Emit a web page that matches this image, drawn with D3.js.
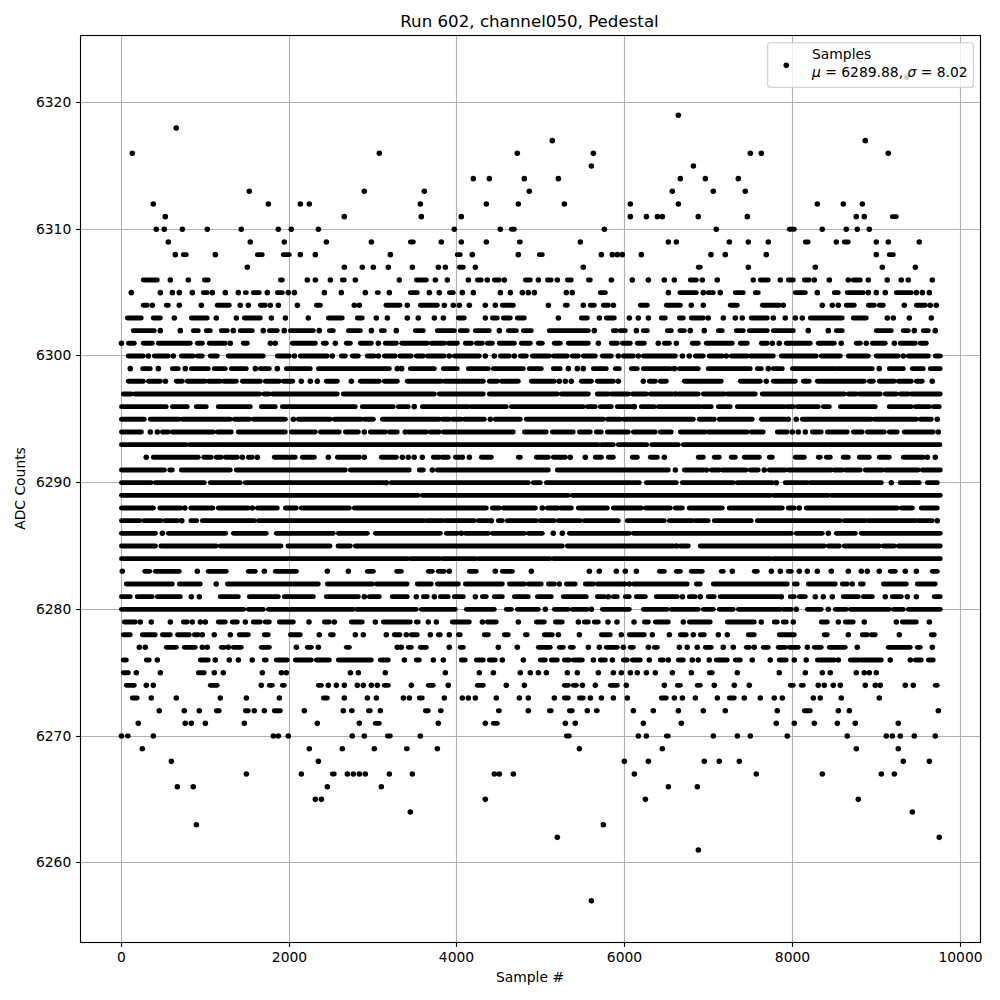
<!DOCTYPE html>
<html><head><meta charset="utf-8">
<script src="https://cdn.jsdelivr.net/npm/d3@7"></script>
<style>html,body{margin:0;padding:0;background:#fff}svg{display:block}text{font-family:"DejaVu Sans",sans-serif;fill:#000}</style>
</head><body><div id="chart"></div>
<script>
// Sample numbers, one list per ADC level.
// A number is one isolated sample; [a,b] is an unbroken row of overlapping samples.
const L6322=[9351];
const L6319=[6632];
const L6318=[653];
const L6317=[5131,8858];
const L6316=[129,3071,4714,5620,7489,7620,9132];
const L6315=[5596,6811];
const L6314=[4190,4381,4798,5203,6656,6953,7346];
const L6313=[1522,2892,3607,4857,6560,7048,7429];
const L6312=[379,1749,2130,2237,3559,4345,4726,5274,6060,6632,8287,8596,8823];
const L6311=[522,2654,3571,4047,6060,6251,6382,6441,6869,7453,8751,8846,[9180,9228]];
const L6310=[415,510,725,1022,1427,1868,2023,2345,3964,4512,[4643,4679],5751,7084,[7953,8013],8346,8632,8763,8906];
const L6309=[558,1534,1939,2440,2976,[3440,3476],3809,4047,4345,[4738,4750],5465,6513,6608,7239,7465,7703,[8144,8179],8513,[8608,8656],8989,9132,9501];
const L6308=[641,[736,772],1118,[1618,1677],[1927,1999],2130,2309,3202,[3999,4035],4178,4726,[4976,5012],5715,5846,5905,5965,6191,7020,7191,7679,8989,[9144,9192]];
const L6307=[1499,2654,2868,2999,3178,3464,3774,3857,[4024,4071],4214,5500,[6869,6893],7465,8263,9061,9454];
const L6306=[[260,427],582,796,[987,1034],[1892,1916],2213,2309,2488,[2630,2654],2785,3309,[3512,3631],3738,3881,4131,[4238,4286],4357,[4440,4500],4560,[4810,4870],4965,[5072,5119],5191,[5310,5358],[5560,5584],5834,6084,6275,6465,6584,[6774,6846],6917,7096,7524,[7608,7703],7846,[7941,8001],[8132,8191],8251,8430,8656,[8715,8799],8894,9120,9287,9370,9656];
const L6305=[117,463,606,689,844,[975,1022],1082,1237,1392,[1475,1487],[1570,1642],1737,[1856,1916],1987,2059,2416,2618,2904,[3047,3059],3190,[3440,3523],3666,3785,[3905,3952],4059,4190,4512,4631,4774,4845,4917,5298,5369,[5703,5763],6513,[6651,6846],6929,[6988,7048],7131,[7310,7405],[7548,7584],[8025,8144],8287,[8489,8537],[8644,8835],8894,8989,9096,[9228,9406],9466,9537,9621];
const L6304=[[260,308],367,[534,558],689,951,[1141,1284],1415,1511,[1654,1713],1773,1868,2095,[2321,2369],2773,2833,[3150,3317],3404,[3559,3762],3845,3952,4024,4143,4333,4452,[4536,4667],5084,[5286,5310],5500,[5584,5631],[5739,5798],5858,[6179,6263],[6489,6656],6786,6929,[7250,7334],[7632,7834],7882,8346,8465,8537,[8632,8727],[8894,8965],[9025,9073],9323,[9466,9573],9632,9704];
const L6303=[[70,236],[379,463],629,[832,1022],1129,1368,[1463,1654],1785,1952,2225,[2464,2630],[2809,2868],3035,3166,3404,3535,3726,3833,[4012,4083],4333,[4417,4476],[4548,4631],[4714,4798],5203,[5477,5548],5691,[5774,5870],6048,6155,6275,[6429,6477],[6644,6691],[6786,6929],6988,7167,7310,7393,[7500,7691],7763,7905,8025,8108,[8203,8584],[8715,8870],9120,9192,9382,9644];
const L6302=[[141,391],463,701,[856,915],[1010,1058],[1189,1261],1332,[1415,1558],1689,[1761,1856],1939,[2011,2285],2356,[2476,2523],[2702,2845],2976,[3095,3131],3273,[3500,3595],[3762,3964],[4035,4119],[4214,4381],4500,[4607,4703],[4786,4881],[5095,5560],5631,[5858,5893],[5941,6000],6132,[6215,6263],[6501,6548],[6651,6703],6774,6941,[7108,7155],[7322,7405],[7477,7691],[7763,8001],8179,8418,[8513,8584],[8989,9168],[9311,9370],9442,[9549,9609],9692];
const L6301=[0,[83,153],[260,367],[439,820],[903,963],[1046,1237],1296,[1451,1499],1773,1832,[2035,2309],[2404,2440],2547,[2678,2726],[2845,2976],3059,[3142,3273],[3337,3642],[3690,3845],[3892,4000],[4095,4167],[4226,4298],[4357,4417],[4500,4679],[4762,4869],[4965,5012],[5155,5226],[5322,5560],5679,[5834,5905],[5965,6060],[6143,6227],6393,[6465,6525],6608,[6798,6869],[6965,7274],[7370,7453],[7620,7691],7751,7834,[7917,8203],[8298,8489],8572,[8751,8799],8870,[8942,9096],9204,[9275,9454],[9513,9585]];
const L6300=[[81,260],320,[391,558],617,[713,856],[903,963],[1058,1141],[1272,1689],[1856,1999],2059,[2130,2452],2511,[2618,2666],[2749,2821],[2928,3011],3059,[3130,3261],[3317,3452],[3512,3595],[3642,3845],3904,[3964,4262],4333,4440,[4512,4619],4679,[4750,4822],[4893,5095],[5143,5310],[5369,5441],[5500,5643],[5727,5834],5917,[5977,6096],6155,[6215,6596],6680,6762,[6834,6929],[7000,7155],7203,[7262,7453],[7489,7763],[7858,8275],[8334,8561],[8656,8894],[8989,9251],9311,[9370,9609],[9692,9752]];
const L6299=[105,[252,343],439,[606,677],760,[832,1034],[1105,1237],[1308,1487],1594,[1654,1761],1856,[1963,2249],[2345,3190],3285,3337,[3440,3726],[3833,4000],[4131,4369],[4429,4786],[4857,5000],[5143,5226],5322,5429,5500,[5620,5774],[5881,5929],[6072,6143],[6215,6537],6584,[6644,6869],[6988,7489],[7572,7620],7703,[7763,7870],[7989,8497],[8525,8942],9025,[9144,9311],[9418,9549],[9632,9751]];
const L6298=[[81,260],[320,463],524,[653,725],[784,998],[1034,1177],[1213,1368],[1440,1654],[1713,1880],[1928,2040],2142,2249,2332,[2440,2571],2738,[2845,3071],[3130,3285],[3404,3809],[3845,4310],[4381,4476],[4524,4726],[4881,5155],5214,5286,5357,[5477,5596],[5667,5858],5917,6215,[6286,6358],[6417,6489],[6703,7143],[7370,7608],7679,[7763,8025],[8120,8191],[8287,8846],[8906,8954],[9025,9204],[9251,9406],[9466,9537],9656];
const L6297=[[22,117],[159,1646],[1697,1756],[1796,2570],[2642,3726],[3785,4310],[4381,5191],[5238,5560],[5667,5798],[5834,6036],[6084,6251],[6298,6560],6596,[6632,6869],[6929,7179],[7215,7548],[7631,8608],[8656,8751],[8787,9037],[9096,9228],[9275,9370],[9406,9751]];
const L6296=[[0,534],[606,784],[891,1010],[1153,1534],[1665,1832],[1916,2785],[2868,3237],[3297,3416],3487,[3583,3940],[3964,4131],[4167,4583],[4643,5500],[5548,5643],[5703,5834],[5905,6072],6108,[6191,6346],[6393,6893],[6929,7024],[7108,7250],[7334,7894],[7929,8001],[8048,8298],[8358,8430],[8561,8977],[9144,9406],[9454,9621],[9668,9739]];
const L6295=[[0,272],[343,689],[725,1296],[1344,1523],[1570,1952],2047,[2106,2488],[2535,2857],[2892,3000],[3107,3785],[3821,3905],[3940,4047],[4083,4321],4393,[4452,4750],[4821,5738],[5786,5941],[5977,6810],[6881,7060],[7119,7512],[7620,7905],7941,8036,[8108,8930],[8965,9466],[9513,9644],9716];
const L6294=[[0,238],343,427,[487,558],[606,1094],[1141,1308],[1391,1952],[2023,2309],[2369,2595],[2666,2821],2892,[2963,3142],[3190,3285],3380,[3416,3631],[3678,3785],[3833,4667],[4798,5060],[5131,5381],[5453,5584],[5655,5715],[5786,6036],[6096,6358],[6417,6548],[6656,6953],[6988,7453],[7500,7643],[7810,7929],7989,8060,8144,[8227,8334],[8406,8644],[8715,8822],[8882,9085],[9144,9239],[9322,9668],9728];
const L6293=[[0,768],[808,1173],[1193,2620],[2645,5679],[5715,5858],[5917,6255],[6314,6632],[6691,8398],[8426,9747]];
const L6292=[295,[379,915],[980,1070],[1129,1189],[1237,1380],1440,[1511,1558],1618,[1820,2070],[2154,2297],2464,[2571,2833],2892,[3095,3273],3345,3416,3487,3583,[3714,3785],[3821,3892],[3976,4024],4059,4143,[4286,4405],[4726,4750],[4941,5084],[5143,5286],5345,5524,[5643,5715],[5798,5858],[6084,6143],[6298,6382],6465,[6869,6929],[7060,7119],[7262,7310],[7417,7596],[7715,7751],[8025,8132],[8298,8322],[8394,8441],[8596,8656],[8787,8906],[9025,9144],[9311,9549],9597,9692];
const L6291=[[0,512],[574,606],[713,1296],[1368,2666],[2726,3428],[3547,3595],3702,[3761,5084],[5191,6513],6596,[6703,6929],6965,[7024,7119],[7155,7441],[7489,7584],7655,[7715,7905],[7941,8453],[8489,8584],[8620,8799],[8858,9060],[9096,9489],[9537,9752]];
const L6290=[[0,355],[403,987],[1058,1415],[1475,3118],3154,[3213,4845],[4905,4988],[5060,6167],[6251,6608],[6679,7286],[7334,7751],7798,[7905,8168],[8203,9049],9168,[9275,9501],[9597,9716]];
const L6289=[[0,3535],[3583,5322],[5369,7727],[7763,8418],[8453,9752]];
const L6288=[[0,381],[457,707],755,[826,1088],[1153,1511],1558,[1618,1856],[1952,2083],[2142,2714],[2773,4345],[4417,4500],[4548,4929],5012,[5072,5200],[5230,5357],[5441,5786],[5858,6191],[6239,6537],[6596,6680],[6762,7155],[7238,7870],[7941,8013],8072,[8155,9239],[9287,9418],[9525,9716]];
const L6287=[[0,218],[266,469],[516,671],719,[826,896],[963,1582],[1630,3595],[3631,3821],[3857,4083],[4107,4202],[4250,4369],4405,[4488,4536],[4595,4941],[4988,5155],[5203,5465],[5512,5917],[6024,6465],[6525,6798],[6834,6988],[7060,7500],[7572,8561],[8608,8858],[8894,9454],[9489,9656],9716];
const L6286=[[0,405],487,[558,1241],[1332,1725],[1844,2523],[2583,2928],[3023,3797],[3869,4000],4047,[4095,4369],[4417,4798],[4845,5012],5143,5250,[5334,6048],[6096,7977],[8036,8346],8418,[8513,8739],[8811,9751]];
const L6285=[[0,405],[469,1129],[1177,1899],[1983,2483],[2579,2726],[2785,5250],[5310,6572],6608,[6651,6750],[6893,8370],[8418,8549],[8608,9025],[9073,9204],[9251,9751]];
const L6284=[[0,3404],[3440,3785],[3821,4214],[4250,5103],[5143,7727],[7763,9751]];
const L6283=[10,[277,337],[403,689],903,[1034,1249],[1511,1594],1701,[1832,2083],2452,2702,[2928,3000],[3277,3333],[3654,3702],[3773,3845],3904,[4143,4226],4452,[4536,4655],4881,5572,5691,5893,6000,6132,[6406,6465],[6608,6656],[6786,6917],[7143,7167],7274,[7536,7572],7739,7846,[7941,7977],8072,8168,8287,8453,8656,8811,8882,9025,[9156,9216],9335,9466,[9656,9716]];
const L6282=[[58,606],[689,939],1129,[1261,2345],[2452,2988],[3035,3404],[3523,3690],[3761,4012],[4095,4536],[4619,4798],[4845,5000],[5084,5155],5214,[5298,5405],[5524,5620],[5667,6000],6048,[6096,6738],[6846,6893],[7048,7929],[8013,8048],[8179,8501],[8584,8644],8703,[8799,8835],[9073,9347],[9477,9692]];
const L6281=[[0,105],[188,367],[427,701],832,927,[1177,1392],[1523,1868],[1939,2285],[2440,2821],2892,[2952,3071],[3225,3404],3511,[3595,3642],3726,[3797,3892],[3964,4071],4214,[4298,4345],[4440,4536],[4679,4845],[4953,5119],[5262,5536],[5667,5750],5798,[5858,5905],[6000,6048],[6132,6239],[6370,6620],6680,[6763,6834],6893,[6988,7060],[7131,7822],7858,[7965,8013],[8072,8144],8263,8358,8465,[8596,8775],[8834,8942],9096,[9180,9287],9359,9466,[9680,9751]];
const L6280=[[0,1456],[1511,1689],[1749,2761],[2801,3511],[3571,3976],[4107,4440],[4583,4643],[4714,4965],5048,[5155,5322],[5369,5548],5596,[5727,6048],[6215,6501],[6548,6869],[6929,7048],[7119,7286],[7346,7846],[7881,7977],8036,[8168,8334],8418,[8501,8632],[8680,9144],[9192,9311],[9370,9751]];
const L6279=[[34,165],224,355,582,[737,784],844,939,999,[1153,1237],[1320,1380],1475,[1570,1654],[1713,1761],[1880,2047],2233,[2416,2476],2535,[2737,2868],3023,[3118,3440],[3511,3535],3654,3750,[3940,4143],4298,[4357,4464],4726,[4941,5036],[5167,5250],5441,[5512,5560],[5631,5679],5794,5901,6104,[6227,6275],[6358,6513],6691,[6763,7012],[7215,7536],7620,[7774,7810],[7881,7917],8001,[8334,8406],8537,[8620,8715],8846,9228,[9299,9466],9621];
const L6278=[[22,105],[248,403],[487,582],[667,808],[868,915],963,1105,1296,[1403,1511],[1701,1749],[2011,2130],2356,[2488,2523],2785,2880,3154,[3249,3317],3392,[3452,3523],3678,[3773,3797],3904,[4012,4035],[4321,4369],[4560,4607],[4810,4833],[5036,5131],5203,5453,[5715,5822],5953,[6048,6227],6322,6525,[6656,6726],6810,[6893,6941],7108,7215,[7465,7536],[7834,8013],[8370,8406],8656,[8822,8882],[8930,8977],9263,[9644,9680]];
const L6277=[213,284,[534,653],[748,879],963,1022,[1189,1225],1272,[1332,1427],[1665,1761],2083,[2213,2261],2345,[2678,2714],3285,3333,[3416,3452],[3559,3631],3904,[4035,4071],4488,4714,[4965,5107],[5214,5262],[5345,5381],5560,5691,[5774,5905],5977,[6060,6096],6275,[6346,6382],6644,6738,6857,[6953,7024],7167,7286,[7441,7477],7536,[7643,7703],[7822,7905],[7953,8060],8168,[8251,8334],[8430,8620],8763,[9132,9394],[9477,9513],9656];
const L6276=[[22,58],[296,331],427,[939,1034],1117,1284,1392,1558,[1701,1725],[1844,1975],[2071,2261],[2321,2476],[2583,2976],[3083,3178],3369,[3511,3547],3714,3833,[4047,4095],[4226,4310],[4381,4452],4536,4786,[4988,5048],[5119,5191],[5274,5334],[5381,5489],5620,[5703,5763],5846,[5977,6024],[6084,6179],6286,[6417,6453],6513,[6632,6691],6798,6869,7000,[7084,7215],[7310,7370],7512,7727,[7834,7917],8013,8155,[8287,8489],8537,[8680,8787],[8811,9049],9156,9394,[9454,9525],[9609,9668]];
const L6275=[[22,83],177,463,[915,987],1105,1213,1677,1904,1963,2726,2821,3142,3857,4262,4429,4750,4869,4965,5060,5310,5429,5679,5858,5953,6060,6143,6251,6358,6561,6787,[7000,7036],7334,7834,8144,8346,8441,8751,8846,8906,8989];
const L6274=[[58,153],296,379,[1058,1141],1665,[1761,1796],[1916,1940],[2345,2381],2464,2559,2654,2809,2880,2976,3047,[3130,3178],3452,[3654,3714],3892,[4238,4310],4583,4798,[5274,5322],[5381,5417],5489,5643,[5822,5905],6012,6465,[6620,6656],[6857,6893],7060,7298,7477,[7965,8001],[8096,8120],8298,8370,8477,8561,8858,8977,9037,9335,9430,[9692,9716]];
const L6273=[[129,188],355,653,1177,1487,1880,[2404,2452],2654,2928,3035,3357,3428,[3547,3583],3845,4059,4131,4214,4464,4738,4845,5155,[5274,5322],[5453,5500],5584,5715,5858,6024,[6429,6489],6584,6680,6834,7096,[7239,7298],7417,7608,7774,7870,8239,8322,8572,9025];
const L6272=[450,748,927,[1129,1165],[1475,1511],1582,1701,[1820,1892],2178,2642,[2737,2749],[2940,2963],3083,[3619,3654],[3797,3809],[4488,4500],4845,[5095,5119],[5334,5369],5548,[5655,5667],6096,6334,6632,6929,7191,7810,[8132,8203],8537,8668,9728];
const L6271=[200,760,832,999,1463,2332,2833,[3023,3071],3773,4333,[4429,4476],5286,5405,6215,6668,7798,8013,8251,8525,8739,9251];
const L6270=[0,[70,81],379,1808,1868,1987,2749,2892,[3166,3202],3559,[5298,5334],6155,6251,[6489,6513],7048,7334,7489,7929,8644,9108,9180,9275,9442,9692];
const L6269=[248,2237,2630,3011,[3392,3404],3762,5453,6441,8751,9251];
const L6268=[594,2345,5989,6275,6941,7119,7358,9311,9621];
const L6267=[1487,2142,[2511,2535],2690,2761,2833,2904,3190,3464,4440,4500,4667,6108,7560,8346,9049,9204];
const L6266=[665,855,2452,3095,6513,6858];
const L6265=[2309,2381,4333,6239,8775];
const L6264=[3440,9418];
const L6263=[892,5739];
const L6262=[5191,9739];
const L6261=[6870];
const L6257=[5596];

const adcLevels=[6322,6319,6318,6317,6316,6315,6314,6313,6312,6311,6310,6309,6308,6307,6306,6305,6304,6303,6302,6301,6300,6299,6298,6297,6296,6295,6294,6293,6292,6291,6290,6289,6288,6287,6286,6285,6284,6283,6282,6281,6280,6279,6278,6277,6276,6275,6274,6273,6272,6271,6270,6269,6268,6267,6266,6265,6264,6263,6262,6261,6257];
const levelRuns=[L6322,L6319,L6318,L6317,L6316,L6315,L6314,L6313,L6312,L6311,L6310,L6309,L6308,L6307,L6306,L6305,L6304,L6303,L6302,L6301,L6300,L6299,L6298,L6297,L6296,L6295,L6294,L6293,L6292,L6291,L6290,L6289,L6288,L6287,L6286,L6285,L6284,L6283,L6282,L6281,L6280,L6279,L6278,L6277,L6276,L6275,L6274,L6273,L6272,L6271,L6270,L6269,L6268,L6267,L6266,L6265,L6264,L6263,L6262,L6261,L6257];
const xTicks=[0,2000,4000,6000,8000,10000];
const yTicks=[6260,6270,6280,6290,6300,6310,6320];
const titleText="Run 602, channel050, Pedestal";
const xLabel="Sample #";
const yLabel="ADC Counts";
const legendName="Samples";
const legendMean="6289.88";
const legendSigma="8.02";

const W=1000,H=1000,L=81,R=980,T=35,B=942;
const x=d3.scaleLinear().domain([-480.3,10234.8]).range([L,R]);
const y=d3.scaleLinear().domain([6253.740,6325.338]).range([B,T]);
// The sample readings above were taken with a slightly different pixel scale.
const readScale=1.00083, readShift=2;
const sampleX=s=>x(s*readScale+readShift);
const snap=v=>Math.floor(v)+0.5;
const svg=d3.select("#chart").append("svg").attr("width",W).attr("height",H);
svg.append("rect").attr("width",W).attr("height",H).attr("fill","#fff");

const grid=svg.append("g").attr("stroke","#b0b0b0").attr("stroke-width",1.11);
grid.selectAll("line.gx").data(xTicks).join("line").attr("class","gx")
  .attr("x1",d=>snap(x(d))).attr("x2",d=>snap(x(d))).attr("y1",T).attr("y2",B);
grid.selectAll("line.gy").data(yTicks).join("line").attr("class","gy")
  .attr("y1",d=>snap(y(d))).attr("y2",d=>snap(y(d))).attr("x1",L).attr("x2",R);

const marks=[];
adcLevels.forEach((lv,i)=>levelRuns[i].forEach(r=>{
  const [a,b]=Array.isArray(r)?r:[r,r];
  marks.push({lv,a,b});
}));
svg.append("g").attr("stroke","#000").attr("stroke-linecap","round")
  .selectAll("line").data(marks).join("line")
  .attr("stroke-width",d=>d.a===d.b?5.56:4.9)
  .attr("x1",d=>sampleX(d.a)).attr("x2",d=>sampleX(d.b)).attr("y1",d=>y(d.lv)).attr("y2",d=>y(d.lv));

const ax=svg.append("g").attr("transform",`translate(0,${B})`)
  .call(d3.axisBottom(x).tickValues(xTicks).tickFormat(d3.format("d")).tickSize(4.86).tickPadding(4.9));
const ay=svg.append("g").attr("transform",`translate(${L},0)`)
  .call(d3.axisLeft(y).tickValues(yTicks).tickFormat(d3.format("d")).tickSize(4.86).tickPadding(4.9));
[ax,ay].forEach(g=>{
  g.select(".domain").remove();
  g.selectAll(".tick line").attr("stroke","#000").attr("stroke-width",1.11);
  g.selectAll("text").attr("font-size",13.89).attr("font-family","DejaVu Sans").attr("fill","#000");
});
ax.selectAll(".tick").attr("transform",d=>`translate(${snap(x(d))},0)`);
ay.selectAll(".tick").attr("transform",d=>`translate(0,${snap(y(d))})`);
svg.append("rect").attr("x",80.5).attr("y",35.5).attr("width",900).attr("height",907)
  .attr("fill","none").attr("stroke","#000").attr("stroke-width",1.11);

svg.append("text").attr("x",529.5).attr("y",27).attr("text-anchor","middle").attr("font-size",16.67).text(titleText);
svg.append("text").attr("x",530).attr("y",982).attr("text-anchor","middle").attr("font-size",13.89).text(xLabel);
svg.append("text").attr("transform",`translate(25,${(T+B)/2}) rotate(-90)`).attr("text-anchor","middle").attr("font-size",13.89).text(yLabel);

const lg=svg.append("g");
lg.append("rect").attr("x",767.7).attr("y",42.7).attr("width",205.6).attr("height",44.6).attr("rx",2.8)
  .attr("fill","#fff").attr("fill-opacity",0.8).attr("stroke","#ccc").attr("stroke-width",1.11);
lg.append("circle").attr("cx",786.3).attr("cy",65.3).attr("r",2.78).attr("fill","#000");
lg.append("text").attr("x",812).attr("y",59.3).attr("font-size",13.89).text(legendName);
const t2=lg.append("text").attr("x",812).attr("y",76.7).attr("font-size",13.89);
t2.append("tspan").attr("font-style","italic").text("μ");
t2.append("tspan").text(` = ${legendMean}, `);
t2.append("tspan").attr("font-style","italic").text("σ");
t2.append("tspan").text(` = ${legendSigma}`);
</script></body></html>
